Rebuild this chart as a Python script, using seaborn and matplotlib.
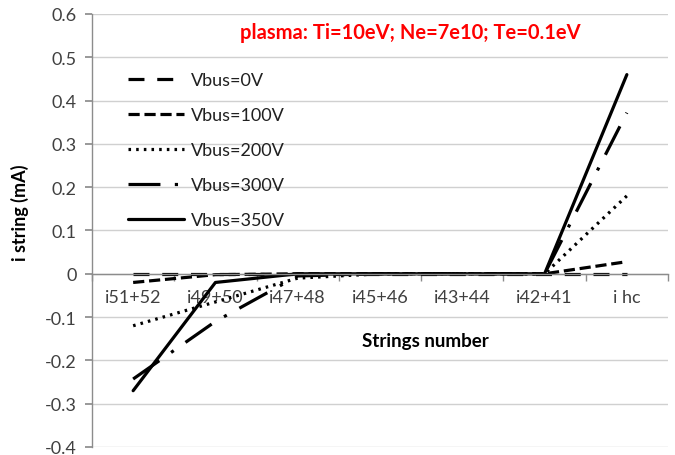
import matplotlib
matplotlib.use("Agg")
import matplotlib.pyplot as plt
import seaborn as sns
import pandas as pd
from matplotlib.ticker import FixedLocator

categories = ["i51+52", "i49+50", "i47+48", "i45+46", "i43+44", "i42+41", "i hc"]
v0 = [0.0, 0.0, 0.0, 0.0, 0.0, 0.0, 0.0]
v100 = [-0.02, -0.002, 0.0, 0.0, 0.0, 0.0, 0.028]
v200 = [-0.12, -0.065, -0.01, 0.0, 0.0, 0.0, 0.18]
v300 = [-0.243, -0.11, -0.005, 0.0, 0.0, 0.0, 0.372]
v350 = [-0.27, -0.02, 0.0, 0.0, 0.0, 0.0, 0.46]
series_names = ["Vbus=0V", "Vbus=100V", "Vbus=200V", "Vbus=300V", "Vbus=350V"]
yticks = [-0.4, -0.3, -0.2, -0.1, 0, 0.1, 0.2, 0.3, 0.4, 0.5, 0.6]
ytick_labels = ["-0.4", "-0.3", "-0.2", "-0.1", "0", "0.1", "0.2", "0.3", "0.4", "0.5", "0.6"]

sns.set_theme(style="white")
plt.rcParams['font.family'] = ['Lato', 'DejaVu Sans']

rows = []
for name, vals in zip(series_names, [v0, v100, v200, v300, v350]):
    for i, v in enumerate(vals):
        rows.append({"x": i, "y": v, "series": name})
df = pd.DataFrame(rows)

dashes = {
    "Vbus=0V": (5, 4),
    "Vbus=100V": (3.5, 1.5),
    "Vbus=200V": (0.8, 1.6),
    "Vbus=300V": (10, 4.5, 1, 4.5),
    "Vbus=350V": "",
}

fig = plt.figure(figsize=(6.75, 4.56), dpi=100)
ax = fig.add_axes([92/675, 1-448/456, (668-92)/675, (448-15)/456])

sns.lineplot(data=df, x="x", y="y", hue="series", style="series",
             palette=["black"]*5, dashes=dashes, linewidth=2.3, ax=ax,
             legend=True)

ax.set_xlim(-0.5, 6.5)
ax.set_ylim(-0.4, 0.6)
ax.set_yticks(yticks)
ax.set_yticklabels(ytick_labels)
ax.yaxis.grid(True, color="#D0D0D0", linewidth=1)
ax.set_axisbelow(True)

for s in ["top", "right"]:
    ax.spines[s].set_visible(False)
ax.spines["left"].set_color("#8c8c8c")
ax.spines["bottom"].set_color("#8c8c8c")
ax.spines["bottom"].set_position(("data", 0))
ax.spines["left"].set_linewidth(1)
ax.spines["bottom"].set_linewidth(1)

ax.set_xticks(range(len(categories)))
ax.set_xticklabels(categories)
ax.xaxis.set_minor_locator(FixedLocator([i + 0.5 for i in range(-1, 7)]))
ax.tick_params(axis="x", which="major", length=0, pad=11, labelsize=13, colors="#404040")
ax.tick_params(axis="x", which="minor", length=5, color="#8c8c8c", direction="out", bottom=True)
ax.tick_params(axis="y", length=5, color="#8c8c8c", direction="out", left=True, labelsize=13, labelcolor="#404040", pad=6)
ax.set_xlabel("")
ax.set_ylabel("")

leg = ax.legend(loc="upper left", bbox_to_anchor=(128/675, 1-73/456), bbox_transform=fig.transFigure,
                frameon=False, fontsize=13, handlelength=3.1, labelspacing=1.05,
                handletextpad=0.4, borderpad=0, borderaxespad=0)
for t in leg.get_texts():
    t.set_color("#202020")

fig.text(410/675, 1-33/456, "plasma: Ti=10eV; Ne=7e10; Te=0.1eV", color="#FF0000",
         fontsize=14.5, fontweight="bold", ha="center", va="center")
fig.text(425/675, 1-342/456, "Strings number", fontsize=13.5, fontweight="bold",
         ha="center", va="center", color="black")
fig.text(20/675, 1-213/456, "i string (mA)", fontsize=13, fontweight="bold",
         ha="center", va="center", rotation=90, color="black")

fig.savefig("out.png", dpi=100)
